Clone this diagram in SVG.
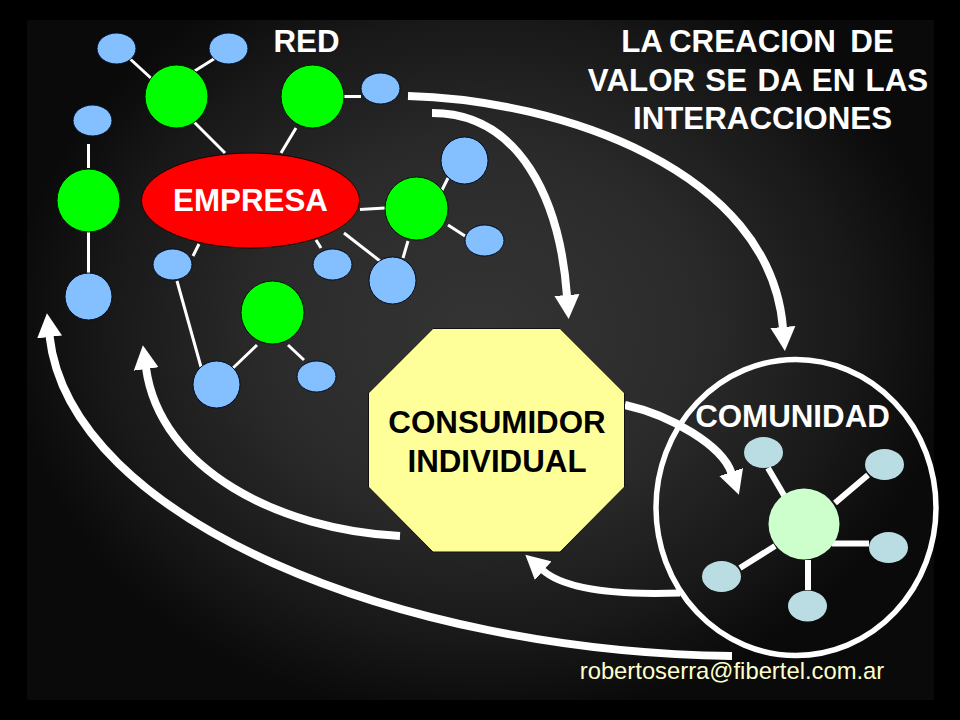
<svg xmlns="http://www.w3.org/2000/svg" width="960" height="720" viewBox="0 0 960 720">
<style>
.t{font-family:"Liberation Sans",Arial,sans-serif;font-weight:bold;font-size:31.3px;fill:#fff;text-anchor:middle}
.g{fill:#00ff00;stroke:#001a00;stroke-width:1}
.b{fill:#84c0ff;stroke:#000c28;stroke-width:1}
.c{fill:#badde3}
.l{stroke:#fff;stroke-width:3;fill:none}
.m{stroke:#fff;stroke-width:6;fill:none}
.a{stroke:#fff;stroke-width:8;fill:none;marker-end:url(#head)}
</style>
<defs>
<radialGradient id="bg" gradientUnits="userSpaceOnUse" cx="0" cy="0" r="1" gradientTransform="translate(480 330) scale(470 390)">
<stop offset="0" stop-color="#343434"/>
<stop offset="0.45" stop-color="#2b2b2b"/>
<stop offset="0.8" stop-color="#181818"/>
<stop offset="1" stop-color="#0a0a0a"/>
</radialGradient>
<marker id="head" markerUnits="userSpaceOnUse" markerWidth="26" markerHeight="26" refX="1" refY="13" orient="auto" viewBox="0 0 26 26">
<path d="M0 0.500L24 13L0 25.500Z" fill="#fff"/>
</marker>
</defs>
<rect width="960" height="720" fill="#000"/>
<rect x="27" y="20" width="907" height="680" fill="url(#bg)"/>
<g id="connectors">
<path class="l" d="M128 57L153 80M217 57L193 72M193 121L225 153M296 128L281 153M344 96.500H361M88.500 144V168M88.500 232V273M360 209.500L385 208M448 178L441 192M448 225L465 236M408 241L403 258M344 233L380 261M316 240L321 248M199 244L193 256M177 281L201 367M257 345L233 368M288 345L304 360"/>
<path class="m" d="M768 468L785 497M835 503L868 475M832 543.500H869M808 560V590M740 568L775 546"/>
<path class="a" d="M408 96C560 100 770 170 783 328"/>
<path class="a" d="M432 113C520 113 560 200 567 296"/>
<path class="a" d="M625 405C670 415 722 445 731.500 473"/>
<path class="a" style="stroke-width:7" d="M680 593C625 595 566 591 542.500 570"/>
<path class="a" d="M400 536C280 530 160 470 146 368"/>
<path class="a" d="M732 656C400 652 70 520 49.500 336"/>
</g>
<g id="empresa"><ellipse cx="250.500" cy="200.500" rx="109" ry="47.500" fill="#ff0000" stroke="#200" stroke-width="1"/><text class="t" x="250.500" y="211">EMPRESA</text></g>
<g id="green1"><circle class="g" cx="176.500" cy="96.500" r="31.500"/></g>
<g id="green2"><circle class="g" cx="312.500" cy="96.500" r="31.500"/></g>
<g id="green3"><circle class="g" cx="88.500" cy="200.500" r="31.500"/></g>
<g id="green4"><circle class="g" cx="416.500" cy="208.500" r="31.500"/></g>
<g id="green5"><circle class="g" cx="272.500" cy="312.500" r="31.500"/></g>
<g id="blue1"><ellipse class="b" cx="116.500" cy="48.500" rx="19.500" ry="15.500"/></g>
<g id="blue2"><ellipse class="b" cx="228.500" cy="48.500" rx="19.500" ry="15.500"/></g>
<g id="blue3"><ellipse class="b" cx="92.500" cy="120.500" rx="19.500" ry="15.500"/></g>
<g id="blue4"><ellipse class="b" cx="380.500" cy="88.500" rx="19.500" ry="15.500"/></g>
<g id="blue5"><ellipse class="b" cx="172.500" cy="264.500" rx="19.500" ry="15.500"/></g>
<g id="blue6"><ellipse class="b" cx="332.500" cy="264.500" rx="19.500" ry="15.500"/></g>
<g id="blue7"><ellipse class="b" cx="484.500" cy="240.500" rx="19.500" ry="15.500"/></g>
<g id="blue8"><ellipse class="b" cx="316.500" cy="376.500" rx="19.500" ry="15.500"/></g>
<g id="blue9"><circle class="b" cx="464.500" cy="160.500" r="23.500"/></g>
<g id="blue10"><circle class="b" cx="392.500" cy="280.500" r="23.500"/></g>
<g id="blue11"><circle class="b" cx="88.500" cy="296.500" r="23.500"/></g>
<g id="blue12"><circle class="b" cx="216.500" cy="384.500" r="23.500"/></g>
<g id="consumidor"><polygon points="433,328.500 560,328.500 624.500,393 624.500,487 560,552 433,552 368.500,487 368.500,393" fill="#ffff99" stroke="#111" stroke-width="1"/><text class="t" style="fill:#000" x="497" y="432.500">CONSUMIDOR</text><text class="t" style="fill:#000" x="497" y="471.500">INDIVIDUAL</text></g>
<g id="comunidad"><ellipse cx="796" cy="507.500" rx="140" ry="148" fill="none" stroke="#fff" stroke-width="5.500"/><text class="t" x="792.500" y="427">COMUNIDAD</text></g>
<g id="hub"><circle cx="804" cy="524" r="35.500" fill="#ccffcc"/></g>
<g id="c1"><ellipse class="c" cx="763.500" cy="452.500" rx="19.500" ry="15.500"/></g>
<g id="c2"><ellipse class="c" cx="884.500" cy="464.500" rx="19.500" ry="15.500"/></g>
<g id="c3"><ellipse class="c" cx="888.500" cy="547.500" rx="19.500" ry="15.500"/></g>
<g id="c4"><ellipse class="c" cx="807.500" cy="606" rx="19.500" ry="15.500"/></g>
<g id="c5"><ellipse class="c" cx="721.500" cy="576.500" rx="19.500" ry="15.500"/></g>
<g id="titles">
<text class="t" x="306.500" y="51.500">RED</text>
<text class="t" x="757.500" y="51.500" xml:space="preserve" word-spacing="-1.5">LA CREACION  DE</text>
<text class="t" x="758" y="90.500" word-spacing="1.6">VALOR SE DA EN LAS</text>
<text class="t" x="762.500" y="128.500">INTERACCIONES</text>
<text x="732" y="679" text-anchor="middle" style="font-family:'Liberation Sans',Arial,sans-serif;font-size:23.800px;fill:#ffffcc">robertoserra@fibertel.com.ar</text>
</g>
</svg>
